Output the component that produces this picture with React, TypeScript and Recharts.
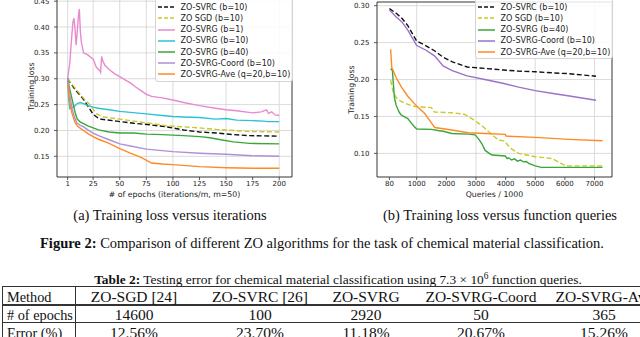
import React from "react";
import {
  CartesianGrid,
  Legend,
  Line,
  LineChart,
  ReferenceArea,
  XAxis,
  YAxis,
} from "recharts";

const SANS = "DejaVu Sans";
const SERIF = "Liberation Serif";

// (a) loss vs epochs
const epochTicks = [1, 25, 50, 75, 100, 125, 150, 175, 200];
const lossTicksA = [0.15, 0.2, 0.25, 0.3, 0.35, 0.4, 0.45];

const svrcEpochs = [1, 8, 16, 20, 25, 31, 47, 63, 78, 94, 110, 125, 141, 157, 172, 200];
const svrcLoss = [0.3, 0.279, 0.26, 0.247, 0.231, 0.222, 0.218, 0.214, 0.211, 0.207, 0.201, 0.197, 0.195, 0.192, 0.19, 0.189];

const sgdEpochs = [1, 8, 16, 22, 28, 35, 50, 63, 78, 94, 110, 125, 141, 157, 172, 200];
const sgdLoss = [0.3, 0.282, 0.262, 0.25, 0.232, 0.226, 0.222, 0.218, 0.214, 0.209, 0.207, 0.205, 0.202, 0.2, 0.198, 0.197];

const svrg1Epochs = [1, 3, 5, 6, 7, 8, 9, 10, 11, 12, 13, 14, 16, 20, 25, 28, 31, 32, 33, 34, 36, 40, 45, 50, 55, 60, 65, 70, 75, 80, 90, 100, 110, 125, 140, 150, 160, 175, 183, 188, 190, 193, 196, 200];
const svrg1Loss = [0.3, 0.33, 0.385, 0.41, 0.417, 0.395, 0.365, 0.39, 0.418, 0.435, 0.39, 0.37, 0.35, 0.346, 0.338, 0.322, 0.316, 0.312, 0.343, 0.335, 0.326, 0.318, 0.31, 0.304, 0.298, 0.292, 0.284, 0.277, 0.27, 0.266, 0.263, 0.259, 0.254, 0.248, 0.243, 0.24, 0.238, 0.234, 0.236, 0.24, 0.233, 0.236, 0.23, 0.229];

const svrg10Epochs = [1, 2, 3, 5, 7, 10, 13, 16, 20, 25, 30, 40, 50, 60, 75, 90, 100, 110, 125, 140, 150, 160, 175, 185, 190, 200];
const svrg10Loss = [0.3, 0.26, 0.242, 0.244, 0.246, 0.252, 0.254, 0.252, 0.248, 0.245, 0.243, 0.24, 0.237, 0.235, 0.232, 0.229, 0.227, 0.226, 0.225, 0.222, 0.223, 0.22, 0.219, 0.218, 0.217, 0.217];

const svrg40Epochs = [1, 3, 5, 8, 10, 13, 16, 20, 25, 30, 40, 50, 63, 75, 90, 100, 110, 125, 135, 145, 157, 172, 200];
const svrg40Loss = [0.3, 0.28, 0.262, 0.235, 0.222, 0.216, 0.213, 0.209, 0.205, 0.201, 0.197, 0.195, 0.195, 0.193, 0.192, 0.191, 0.19, 0.188, 0.186, 0.182, 0.178, 0.175, 0.174];

const coordEpochs = [1, 3, 5, 8, 10, 13, 16, 20, 25, 30, 40, 50, 60, 75, 100, 125, 150, 175, 200];
const coordLoss = [0.3, 0.27, 0.243, 0.222, 0.214, 0.21, 0.207, 0.201, 0.195, 0.19, 0.182, 0.174, 0.17, 0.164, 0.159, 0.156, 0.154, 0.151, 0.15];

const aveEpochs = [1, 3, 5, 8, 10, 13, 16, 20, 25, 30, 40, 50, 60, 70, 80, 90, 100, 125, 150, 175, 200];
const aveLoss = [0.29, 0.255, 0.234, 0.215, 0.209, 0.204, 0.2, 0.194, 0.188, 0.183, 0.175, 0.165, 0.156, 0.148, 0.137, 0.135, 0.134, 0.13, 0.128, 0.127, 0.127];

// (b) loss vs queries / 1000
const queryTicks = [80, 1000, 2000, 3000, 4000, 5000, 6000, 7000];
const lossTicksB = [0.1, 0.15, 0.2, 0.25, 0.3];

const svrcQueries = [80, 300, 500, 700, 1000, 1300, 1600, 1900, 2200, 2700, 3300, 3900, 4400, 5000, 5600, 6100, 7050];
const svrcQLoss = [0.296, 0.29, 0.283, 0.273, 0.252, 0.246, 0.239, 0.23, 0.224, 0.217, 0.215, 0.213, 0.2115, 0.2105, 0.209, 0.208, 0.2045];

const sgdQueries = [120, 200, 300, 400, 600, 800, 1000, 1500, 1600, 2200, 2600, 2860, 3080, 3300, 3550, 3760, 3950, 4100, 4200, 4440, 5000, 5575, 5800, 6030, 7270];
const sgdQLoss = [0.199, 0.184, 0.176, 0.172, 0.168, 0.165, 0.163, 0.162, 0.156, 0.155, 0.153, 0.147, 0.141, 0.134, 0.125, 0.118, 0.117, 0.11, 0.106, 0.1, 0.0955, 0.093, 0.088, 0.083, 0.083];

const svrg40Queries = [120, 180, 220, 250, 300, 360, 420, 480, 560, 700, 820, 900, 1000, 1500, 1720, 1900, 2180, 2740, 2970, 3080, 3150, 3200, 3310, 3450, 3540, 3990, 4050, 4100, 4200, 4300, 4400, 4500, 4600, 4700, 4780, 5000, 5200, 7270];
const svrg40QLoss = [0.215, 0.212, 0.19, 0.175, 0.166, 0.16, 0.155, 0.152, 0.15, 0.147, 0.141, 0.137, 0.133, 0.1325, 0.131, 0.13, 0.127, 0.126, 0.125, 0.12, 0.116, 0.113, 0.104, 0.1, 0.0977, 0.0964, 0.093, 0.094, 0.091, 0.0925, 0.0895, 0.091, 0.0885, 0.089, 0.0865, 0.083, 0.081, 0.081];

const coordQueries = [80, 300, 500, 700, 1000, 1300, 1600, 1900, 2200, 2700, 3300, 3900, 4400, 5000, 5600, 6100, 7050];
const coordQLoss = [0.294, 0.285, 0.278, 0.267, 0.246, 0.24, 0.232, 0.218, 0.212, 0.205, 0.2, 0.195, 0.19, 0.185, 0.181, 0.178, 0.172];

const aveQueries = [120, 160, 200, 300, 480, 706, 1000, 1270, 1500, 1610, 2180, 2740, 3300, 3990, 4010, 5000, 6140, 7270];
const aveQLoss = [0.241, 0.216, 0.213, 0.203, 0.19, 0.177, 0.164, 0.154, 0.141, 0.135, 0.1316, 0.128, 0.127, 0.1257, 0.1234, 0.1217, 0.119, 0.1171];

// Table 2
const tableHeader = ["Method", "ZO-SGD [24]", "ZO-SVRC [26]", "ZO-SVRG", "ZO-SVRG-Coord", "ZO-SVRG-Ave"];
const epochsRow = ["# of epochs", "14600", "100", "2920", "50", "365"];
const errorRow = ["Error (%)", "12.56%", "23.70%", "11.18%", "20.67%", "15.26%"];

type Series = {
  name: string;
  color: string;
  dashed?: boolean;
  x: number[];
  y: number[];
};

const seriesA: Series[] = [
  { name: "ZO-SVRC (b=10)", color: "#111111", dashed: true, x: svrcEpochs, y: svrcLoss },
  { name: "ZO SGD (b=10)", color: "#c9c92a", dashed: true, x: sgdEpochs, y: sgdLoss },
  { name: "ZO-SVRG (b=1)", color: "#e88ad0", x: svrg1Epochs, y: svrg1Loss },
  { name: "ZO-SVRG (b=10)", color: "#2bc3d3", x: svrg10Epochs, y: svrg10Loss },
  { name: "ZO-SVRG (b=40)", color: "#3aa63a", x: svrg40Epochs, y: svrg40Loss },
  { name: "ZO-SVRG-Coord (b=10)", color: "#ad91d8", x: coordEpochs, y: coordLoss },
  { name: "ZO-SVRG-Ave (q=20,b=10)", color: "#ff8a25", x: aveEpochs, y: aveLoss },
];

const seriesB: Series[] = [
  { name: "ZO-SVRC (b=10)", color: "#111111", dashed: true, x: svrcQueries, y: svrcQLoss },
  { name: "ZO SGD (b=10)", color: "#c9c92a", dashed: true, x: sgdQueries, y: sgdQLoss },
  { name: "ZO-SVRG (b=40)", color: "#3aa63a", x: svrg40Queries, y: svrg40QLoss },
  { name: "ZO-SVRG-Coord (b=10)", color: "#9a72c9", x: coordQueries, y: coordQLoss },
  { name: "ZO-SVRG-Ave (q=20,b=10)", color: "#ff8a25", x: aveQueries, y: aveQLoss },
];

const toPoints = (x: number[], y: number[]) => x.map((v, i) => ({ x: v, y: y[i] }));

function LegendBox({ items, width }: { items: Series[]; width: number }) {
  return (
    <div
      style={{
        width,
        boxSizing: "border-box",
        border: "1px solid #d4d4d4",
        borderRadius: 3,
        background: "rgba(255,255,255,0.85)",
        padding: "4.7px 2px 0.5px 1.5px",
        fontFamily: SANS,
        fontSize: 8,
        color: "#222",
      }}
    >
      {items.map((s) => (
        <div
          key={s.name}
          style={{ display: "flex", alignItems: "center", height: 11.2, whiteSpace: "nowrap" }}
        >
          <svg width={17} height={4} style={{ marginRight: 6, flex: "none" }}>
            <line
              x1={0}
              x2={17}
              y1={2}
              y2={2}
              stroke={s.color}
              strokeWidth={1.5}
              strokeDasharray={s.dashed ? "4 2" : undefined}
            />
          </svg>
          <span>{s.name}</span>
        </div>
      ))}
    </div>
  );
}

function LossChart({
  series,
  xTicks,
  yTicks,
  xDomain,
  yDomain,
  xLabel,
  top,
  left,
  height,
  marginTop,
  legendLeft,
  legendTop,
}: {
  series: Series[];
  xTicks: number[];
  yTicks: number[];
  xDomain: [number, number];
  yDomain: [number, number];
  xLabel: string;
  top: number;
  left: number;
  height: number;
  marginTop: number;
  legendLeft: number;
  legendTop: number;
}) {
  const tick = { fontSize: 7, fill: "#222", fontFamily: SANS };
  return (
    <div style={{ position: "absolute", top, left, fontFamily: SANS }}>
      <LineChart
        width={300}
        height={height}
        margin={{ top: marginTop, right: 8, bottom: 0, left: 25 }}
      >
        <CartesianGrid stroke="#d2d2d2" strokeWidth={0.8} />
        <XAxis
          type="number"
          dataKey="x"
          domain={xDomain}
          ticks={xTicks}
          allowDataOverflow
          height={25}
          axisLine={false}
          tickLine={{ stroke: "#333", strokeWidth: 0.8 }}
          tickSize={3}
          tickMargin={1.5}
          tick={tick}
          label={{ value: xLabel, position: "insideBottom", offset: 5, fontSize: 7.8, fill: "#222", fontFamily: SANS }}
        />
        <YAxis
          type="number"
          domain={yDomain}
          ticks={yTicks}
          allowDataOverflow
          width={32}
          axisLine={false}
          tickLine={{ stroke: "#333", strokeWidth: 0.8 }}
          tickSize={3}
          tickMargin={4.5}
          tick={tick}
          tickFormatter={(v: number) => v.toFixed(2)}
          label={{
            value: "Training loss",
            angle: -90,
            position: "insideLeft",
            offset: 6,
            fontSize: 7.8,
            fill: "#222",
            fontFamily: SANS,
            style: { textAnchor: "middle" },
          }}
        />
        {series.map((s) => (
          <Line
            key={s.name}
            data={toPoints(s.x, s.y)}
            dataKey="y"
            name={s.name}
            type="linear"
            stroke={s.color}
            strokeWidth={1.4}
            strokeDasharray={s.dashed ? "5 2.5" : undefined}
            dot={false}
            activeDot={false}
            isAnimationActive={false}
          />
        ))}
        <ReferenceArea
          x1={xDomain[0]}
          x2={xDomain[1]}
          y1={yDomain[0]}
          y2={yDomain[1]}
          fill="none"
          stroke="#333"
          strokeWidth={0.9}
          ifOverflow="visible"
        />
        <Legend
          layout="horizontal"
          verticalAlign="middle"
          align="center"
          wrapperStyle={{ left: legendLeft, top: legendTop, width: 140 }}
          content={() => <LegendBox items={series} width={138} />}
        />
      </LineChart>
    </div>
  );
}

const cellCenters = [0, 134, 260, 366, 481, 604];
const rowCenters = [296.5, 314.5, 333];

function TableRow({ cells, center }: { cells: string[]; center: number }) {
  return (
    <>
      {cells.map((c, i) => (
        <div
          key={i}
          style={{
            position: "absolute",
            top: center - 9,
            left: i === 0 ? 7 : cellCenters[i],
            transform: i === 0 ? undefined : "translateX(-50%)",
            lineHeight: "18px",
            fontSize: i === 0 ? 14.3 : 15.5,
            whiteSpace: "nowrap",
          }}
        >
          {c}
        </div>
      ))}
    </>
  );
}

export default function App() {
  const rule = (top: number, h = 1) => (
    <div style={{ position: "absolute", left: 2, top, width: 660, height: h, background: "#333" }} />
  );
  return (
    <div
      style={{
        position: "absolute",
        left: 0,
        top: 0,
        width: 640,
        height: 337,
        overflow: "hidden",
        background: "#fff",
        fontFamily: SERIF,
        color: "#111",
      }}
    >
      <LossChart
        series={seriesA}
        xTicks={epochTicks}
        yTicks={lossTicksA}
        xDomain={[-9, 212]}
        yDomain={[0.11, 0.46]}
        xLabel="# of epochs (iterations/m, m=50)"
        top={-10}
        left={0}
        height={212}
        marginTop={6}
        legendLeft={155}
        legendTop={6}
      />
      <LossChart
        series={seriesB}
        xTicks={queryTicks}
        yTicks={lossTicksB}
        xDomain={[-340, 7590]}
        yDomain={[0.068, 0.305]}
        xLabel="Queries / 1000"
        top={0}
        left={320}
        height={202}
        marginTop={2}
        legendLeft={155}
        legendTop={-4}
      />

      <div style={{ position: "absolute", left: 170, top: 206, transform: "translateX(-50%)", whiteSpace: "nowrap", fontSize: 14.5, lineHeight: "18px" }}>
        (a) Training loss versus iterations
      </div>
      <div style={{ position: "absolute", left: 500, top: 206, transform: "translateX(-50%)", whiteSpace: "nowrap", fontSize: 14.5, lineHeight: "18px" }}>
        (b) Training loss versus function queries
      </div>
      <div style={{ position: "absolute", left: 322, top: 234, transform: "translateX(-50%)", whiteSpace: "nowrap", fontSize: 14.5, lineHeight: "18px" }}>
        <b>Figure 2:</b> Comparison of different ZO algorithms for the task of chemical material classification.
      </div>
      <div style={{ position: "absolute", left: 338, top: 271, transform: "translateX(-50%)", whiteSpace: "nowrap", fontSize: 13.4, lineHeight: "18px" }}>
        <b>Table 2:</b> Testing error for chemical material classification using 7.3 × 10
        <sup style={{ fontSize: "70%", lineHeight: 0 }}>6</sup> function queries.
      </div>

      {rule(286)}
      {rule(304, 1.5)}
      {rule(322)}
      <div style={{ position: "absolute", left: 2, top: 286, width: 1, height: 60, background: "#333" }} />
      <div style={{ position: "absolute", left: 75, top: 286, width: 1, height: 60, background: "#333" }} />
      <TableRow cells={tableHeader} center={rowCenters[0]} />
      <TableRow cells={epochsRow} center={rowCenters[1]} />
      <TableRow cells={errorRow} center={rowCenters[2]} />
    </div>
  );
}
